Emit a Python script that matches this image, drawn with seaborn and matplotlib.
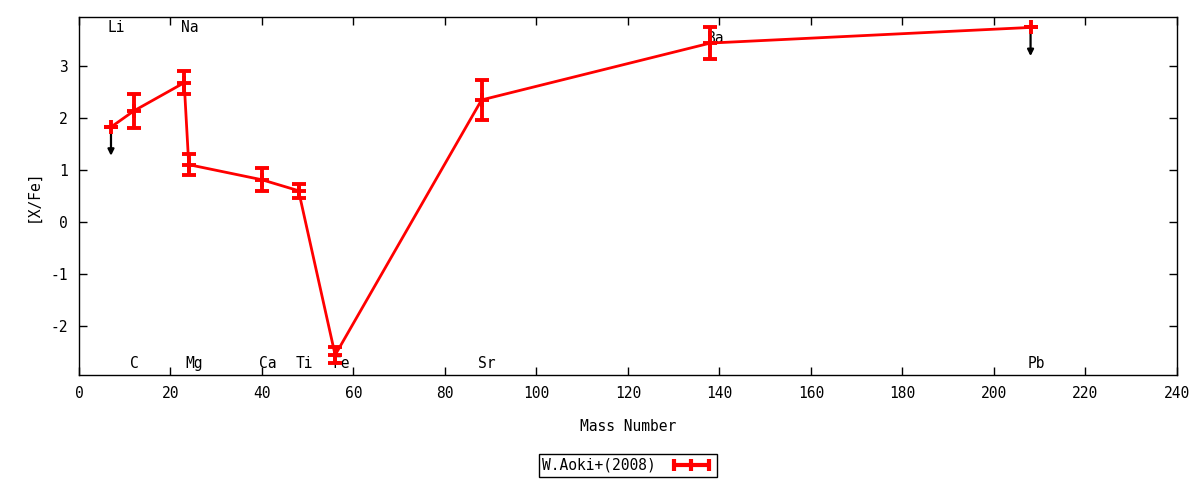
import numpy as np
import pandas as pd
import seaborn as sns
import matplotlib
matplotlib.use("Agg")
import matplotlib.pyplot as plt
from matplotlib.lines import Line2D

# element data (mass number, [X/Fe], error)
elements = ['Li', 'C', 'Na', 'Mg', 'Ca', 'Ti', 'Fe', 'Sr', 'Ba', 'Pb']
mass = [7, 12, 23, 24, 40, 48, 56, 88, 138, 208]
xfe = [1.82, 2.13, 2.67, 1.10, 0.81, 0.60, -2.55, 2.34, 3.43, 3.73]
err = [0.0, 0.32, 0.22, 0.20, 0.22, 0.13, 0.15, 0.38, 0.31, 0.0]
upper_limit = ['Li', 'Pb']
label_top = ['Li', 'Na', 'Ba']

df = pd.DataFrame({'element': elements, 'A': mass, 'xfe': xfe, 'err': err})

sns.set_style("ticks")
plt.rcParams['font.family'] = ['DejaVu Sans Mono', 'DejaVu Sans']
plt.rcParams['font.size'] = 10
plt.rcParams['axes.unicode_minus'] = False
plt.rcParams['text.color'] = 'black'
plt.rcParams['axes.labelcolor'] = 'black'
plt.rcParams['xtick.color'] = 'black'
plt.rcParams['ytick.color'] = 'black'

fig = plt.figure(figsize=(12, 4.8), dpi=100)
ax = fig.add_axes([0.0658, 0.219, 0.915, 0.7456])

sns.lineplot(data=df, x='A', y='xfe', sort=False, estimator=None,
             color='red', linewidth=2, ax=ax, legend=False)
ax.errorbar(df['A'], df['xfe'], yerr=df['err'], fmt='none', ecolor='red',
            elinewidth=2.8, capsize=5, capthick=2.8, zorder=3)
ax.plot(df['A'], df['xfe'], linestyle='none', marker='+', color='red',
        markersize=10, mew=2.8, zorder=4)

# upper limit arrows
for _, r in df[df['element'].isin(upper_limit)].iterrows():
    ax.annotate('', xy=(r['A'], r['xfe'] - 0.55), xytext=(r['A'], r['xfe']),
                arrowprops=dict(arrowstyle='-|>', color='black', lw=1.6,
                                mutation_scale=9, shrinkA=0, shrinkB=0),
                zorder=2)

# element labels
for _, r in df.iterrows():
    if r['element'] in label_top:
        yl = 3.52 if r['element'] == 'Ba' else 3.72
    else:
        yl = -2.72
    dx = 0.2 if r['element'] == 'C' else 1.2
    ax.text(r['A'] + dx, yl, r['element'], ha='center', va='center',
            fontsize=10.5, color='black', zorder=1)

ax.set_xlim(0, 240)
ax.set_ylim(-2.93, 3.93)
ax.set_xticks(np.arange(0, 241, 20))
ax.set_yticks([-2, -1, 0, 1, 2, 3])
ax.tick_params(direction='in', top=True, right=True, length=6, width=1,
               labelsize=10.5, pad=8)
for s in ax.spines.values():
    s.set_linewidth(1)
    s.set_color('black')

ax.set_xlabel('Mass Number', fontsize=10.5, labelpad=13)
ax.set_ylabel('[X/Fe]', fontsize=10.5, labelpad=7)

handle = Line2D([], [], color='red', lw=3, marker='|', markersize=9, mew=3)
fig.legend([handle], ['W.Aoki+(2008)'], loc='lower center',
           bbox_to_anchor=(0.523, -0.008), numpoints=3, markerfirst=False,
           frameon=True, fancybox=False, edgecolor='black', framealpha=1,
           fontsize=10.5, handlelength=3.0, borderpad=0.25, handletextpad=0.9,
           borderaxespad=0.5)
ax.grid(False)

fig.savefig('out.png', dpi=100)
